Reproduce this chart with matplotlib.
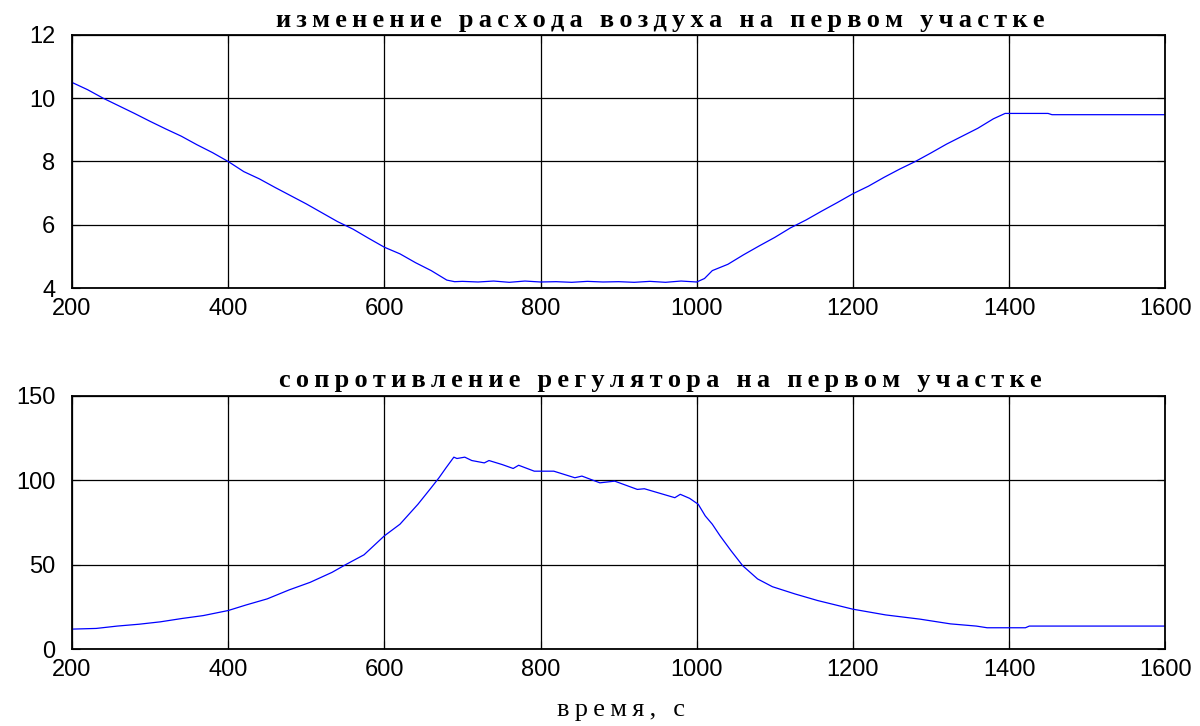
import matplotlib
matplotlib.use("Agg")
import matplotlib.pyplot as plt

# air flow on the first section
t_air = [200, 220, 240, 260, 280, 300, 320, 340, 360, 380, 400, 420, 440, 460, 480,
         500, 520, 540, 560, 580, 600, 620, 640, 660, 680, 690, 700, 720, 740, 760,
         780, 800, 820, 840, 860, 880, 900, 920, 940, 960, 980, 1000, 1010, 1020,
         1040, 1060, 1080, 1100, 1120, 1140, 1160, 1180, 1200, 1220, 1240, 1260,
         1280, 1300, 1320, 1340, 1360, 1380, 1395, 1450, 1455, 1600]
air = [10.50, 10.27, 10.00, 9.76, 9.52, 9.27, 9.03, 8.80, 8.53, 8.28, 8.00, 7.68,
       7.45, 7.18, 6.92, 6.66, 6.38, 6.10, 5.86, 5.57, 5.29, 5.08, 4.80, 4.55, 4.25,
       4.20, 4.21, 4.19, 4.22, 4.18, 4.22, 4.19, 4.20, 4.18, 4.21, 4.19, 4.20, 4.18,
       4.21, 4.18, 4.22, 4.19, 4.30, 4.55, 4.75, 5.05, 5.33, 5.60, 5.90, 6.15, 6.43,
       6.70, 6.98, 7.22, 7.50, 7.76, 8.00, 8.27, 8.55, 8.80, 9.05, 9.35, 9.52, 9.52,
       9.48, 9.48]

# regulator resistance on the first section
t_res = [200, 231, 258, 286, 313, 341, 368, 400, 423, 450, 478, 505, 533, 551, 574,
         600, 620, 643, 660, 670, 679, 689, 693, 703, 712, 728, 734, 751, 765, 772,
         792, 817, 844, 853, 876, 895, 924, 933, 972, 979, 991, 1002, 1011, 1020,
         1030, 1044, 1059, 1078, 1097, 1126, 1155, 1200, 1242, 1286, 1325, 1358,
         1372, 1421, 1426, 1600]
res = [11.8, 12.2, 13.6, 14.7, 16.1, 18.1, 19.8, 22.8, 26.1, 29.7, 35.0, 39.5, 45.4,
       50.1, 55.8, 67.0, 73.9, 85.7, 95.5, 101.4, 107.3, 113.6, 112.8, 113.6, 111.6,
       110.2, 111.6, 109.2, 106.9, 108.8, 105.3, 105.3, 101.4, 102.4, 98.4, 99.4,
       94.5, 94.9, 89.6, 91.6, 89.2, 85.7, 78.8, 73.9, 67.0, 58.2, 49.3, 41.5, 36.9,
       32.6, 28.7, 23.6, 20.2, 17.7, 14.9, 13.6, 12.6, 12.6, 13.6, 13.6]

x_ticks = [200, 400, 600, 800, 1000, 1200, 1400, 1600]
title1 = "изменение расхода воздуха на первом участке"
title2 = "сопротивление регулятора на первом участке"
xlab = "время, с"


def spaced(s):
    # loose letter spacing like the original
    return "\u2009".join(s)


fig = plt.figure(figsize=(12, 7.26), dpi=100)
ax1 = fig.add_axes([0.06, 0.6033, 0.911, 0.3485])
ax2 = fig.add_axes([0.06, 0.1060, 0.911, 0.3490])

for ax, t, y, lim, yt, ttl in [(ax1, t_air, air, (4, 12), [4, 6, 8, 10, 12], title1),
                               (ax2, t_res, res, (0, 150), [0, 50, 100, 150], title2)]:
    ax.plot(t, y, color="#0000ff", lw=0.9)
    ax.set_xlim(200, 1600)
    ax.set_ylim(*lim)
    ax.set_xticks(x_ticks)
    ax.set_yticks(yt)
    ax.grid(True, color="black", lw=0.9)
    ax.tick_params(direction="in", top=True, right=True, length=6,
                   labelsize=17)
    ax.tick_params(axis="y", pad=12)
    ax.tick_params(axis="x", pad=7)
    for lab in ax.get_xticklabels() + ax.get_yticklabels():
        lab.set_family(["Liberation Sans", "DejaVu Sans"])
    for sp in ax.spines.values():
        sp.set_linewidth(1.3)
    ax.text(0.538, 1.033, spaced(ttl), transform=ax.transAxes, ha="center",
            va="baseline", fontsize=19, fontweight="bold",
            family=["Liberation Serif", "DejaVu Serif"])

fig.text(621 / 1200, 1 - 716 / 726, spaced(xlab), ha="center", va="baseline",
         fontsize=19, family=["Liberation Serif", "DejaVu Serif"])

fig.savefig("out.png", dpi=100)
